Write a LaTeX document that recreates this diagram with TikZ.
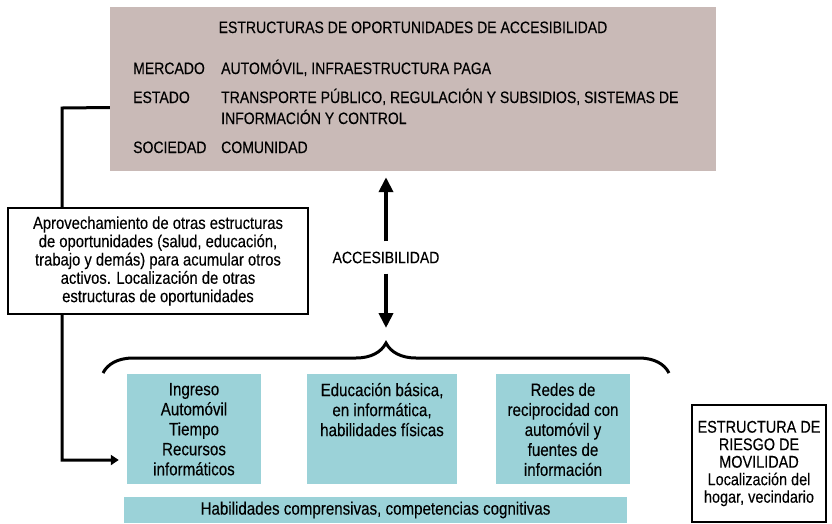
\documentclass[tikz,border=0pt]{standalone}
\usepackage{fontspec}
\setmainfont{Liberation Sans}[FakeStretch=0.85, FakeBold=0.2]
\usetikzlibrary{arrows.meta,positioning,decorations.pathreplacing}
\definecolor{oporpink}{HTML}{C9BAB7}
\definecolor{assetteal}{HTML}{9BD2D8}

\begin{document}
\begin{tikzpicture}[x=1pt, y=-1pt,
  txt/.style={font=\fontsize{16.5}{18.3}\selectfont, inner sep=0pt},
  tealtxt/.style={font=\fontsize{17.8}{20}\selectfont, inner sep=0pt, align=center},
  tealbox/.style={fill=assetteal, inner sep=0pt},
  framebox/.style={draw=black, line width=1.3pt, fill=white, align=center,
    inner sep=0pt, font=\fontsize{17.4}{18.3}\selectfont},
  link/.style={line width=3pt, -{Triangle[width=10pt,length=8pt]}},
  access/.style={line width=4.5pt, -{Triangle[width=14pt,length=15pt]}}
]
\useasboundingbox (0,0) rectangle (832,523);

% Opportunity structures
\node[fill=oporpink, minimum width=606pt, minimum height=164pt, inner sep=0pt] (opor) at (413,89) {};
\node[txt, anchor=base] (title) at (413,33) {ESTRUCTURAS DE OPORTUNIDADES DE ACCESIBILIDAD};

\node[txt, anchor=base west] (merc) at (133,74) {MERCADO};
\node[txt, anchor=base west] (est) at (133,103) {ESTADO};
\node[txt, anchor=base west] (soc) at (133,153) {SOCIEDAD};

\node[txt, anchor=base west] (mercv) at (221,74) {AUTOMÓVIL, INFRAESTRUCTURA PAGA};
\node[txt, anchor=base west] (estv) at (221,103) {TRANSPORTE PÚBLICO, REGULACIÓN Y SUBSIDIOS, SISTEMAS DE};
\node[txt, anchor=base west] (estw) at (221,124) {INFORMACIÓN Y CONTROL};
\node[txt, anchor=base west] (socv) at (221,153) {COMUNIDAD};

% Assets
\node[tealbox, minimum width=134pt, minimum height=110pt] (ing) at (194,429) {};
\node[tealbox, minimum width=150pt, minimum height=110pt] (edu) at (382,429) {};
\node[tealbox, minimum width=134pt, minimum height=110pt] (red) at (563,429) {};
\node[tealbox, minimum width=503pt, minimum height=26pt, font=\fontsize{17.8}{20}\selectfont] (hab) at (375.5,510)
  {Habilidades comprensivas, competencias cognitivas};

\node[tealtxt, below=9pt of ing.north] (ingt) {Ingreso\\Automóvil\\Tiempo\\Recursos\\informáticos};
\node[tealtxt, below=9pt of edu.north] (edut) {Educación básica,\\en informática,\\habilidades físicas};
\node[tealtxt, below=9pt of red.north] (redt) {Redes de\\reciprocidad con\\automóvil y\\fuentes de\\información};

% Feedback link
\coordinate (bend) at (62,108);
\draw[link, shorten >=8pt] ([yshift=-18.5pt]opor.west) -- (bend) |- ([yshift=-31pt]ing.west);

\node[framebox, minimum width=300pt, minimum height=106pt] (apro) at (158,261)
  {Aprovechamiento de otras estructuras\\de oportunidades (salud, educación,\\trabajo y demás) para acumular otros\\activos. Localización de otras\\estructuras de oportunidades};

% Accessibility
\coordinate (bl) at (103,373);
\coordinate (br) at (669,373);
\coordinate (btip) at (386,342);
\draw[line width=3pt, decorate, decoration={brace, amplitude=30pt}] (bl) -- (br);

\node[txt, inner ysep=10pt] (acc) at (386,257.5) {ACCESIBILIDAD};
\draw[access, shorten >=6pt] (acc.north) -- (acc |- opor.south);
\draw[access, shorten >=14pt] (acc.south) -- (btip);

% Mobility risk
\node[framebox, minimum width=134pt, minimum height=117pt, font=\fontsize{17}{17.5}\selectfont] (risk) at (759,463.5)
  {ESTRUCTURA DE\\RIESGO DE\\MOVILIDAD\\Localización del\\hogar, vecindario};

\end{tikzpicture}
\end{document}
